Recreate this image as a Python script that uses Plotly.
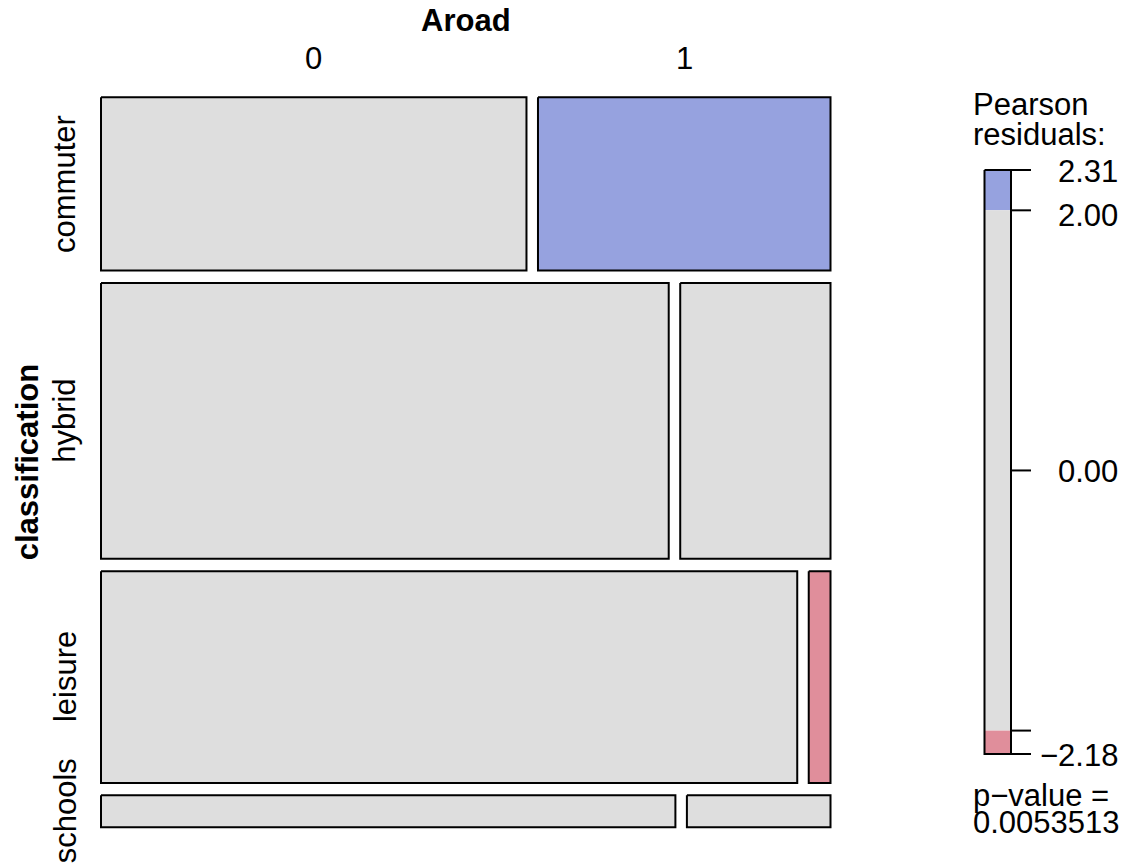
import numpy as np
import plotly.graph_objects as go

# ---- data ----
classification = ["commuter", "hybrid", "leisure", "schools"]
aroad_levels = ["0", "1"]
count_aroad0 = [16, 34, 32, 4]
count_aroad1 = [11, 9, 1, 1]
resid_max = 2.31
resid_min = -2.18
shade_cuts = [2.0, -2.0]
legend_labels = [2.31, 2.00, 0.00, -2.18]
p_value = "0.0053513"

# ---- colours / layout constants ----
W, H = 1128, 868
GREY = "#DEDEDE"
BLUE = "#96A2DF"
PINK = "#E08E9B"
FONT = "Liberation Sans, Arial, sans-serif"
FS = 31

left, right, top, bottom = 101.0, 830.5, 97.3, 827.3
gx, gy = 11.5, 12.3

counts = np.array([count_aroad0, count_aroad1], dtype=float).T  # rows x cols
N = counts.sum()
rowtot = counts.sum(axis=1)
coltot = counts.sum(axis=0)
expected = np.outer(rowtot, coltot) / N
resid = (counts - expected) / np.sqrt(expected)

fig = go.Figure()

def rect(x0, x1, y0, y1, fill, width=2):
    fig.add_trace(go.Scatter(
        x=[x0, x1, x1, x0, x0], y=[y0, y0, y1, y1, y0],
        mode="lines", fill="toself", fillcolor=fill,
        line=dict(color="black", width=width),
        hoverinfo="skip", showlegend=False))

def shade(r):
    if r > shade_cuts[0]:
        return BLUE
    if r < shade_cuts[1]:
        return PINK
    return GREY

nrow, ncol = counts.shape
content_h = (bottom - top) - gy * (nrow - 1)
content_w = (right - left) - gx * (ncol - 1)

row_centers = []
col_centers_first = []
y = top
for i in range(nrow):
    h = content_h * rowtot[i] / N
    x = left
    for j in range(ncol):
        w = content_w * counts[i, j] / rowtot[i]
        rect(x, x + w, y, y + h, shade(resid[i, j]))
        if i == 0:
            col_centers_first.append(x + w / 2)
        x += w + gx
    row_centers.append(y + h / 2)
    y += h + gy

annotations = []
def txt(x, y, s, size=FS, bold=False, angle=0, xanchor="center", yanchor="middle"):
    annotations.append(dict(
        x=x, y=y, xref="x", yref="y", text=("<b>%s</b>" % s) if bold else s,
        showarrow=False, textangle=angle, xanchor=xanchor, yanchor=yanchor,
        font=dict(family=FONT, size=size, color="black")))

# top labels
txt((left + right) / 2, 20, "Aroad", bold=True)
for j, lab in enumerate(aroad_levels):
    txt(col_centers_first[j], 58, lab)
# left labels
txt(27, (top + bottom) / 2, "classification", bold=True, angle=-90)
for i, lab in enumerate(classification):
    txt(65, row_centers[i], lab, angle=-90)

# ---- legend ----
lx0, lx1, ltop, lbot = 984.5, 1011.0, 170.0, 754.0
def ly(v):
    return ltop + (resid_max - v) / (resid_max - resid_min) * (lbot - ltop)

segs = [(resid_max, shade_cuts[0], BLUE), (shade_cuts[0], shade_cuts[1], GREY),
        (shade_cuts[1], resid_min, PINK)]
for a, b, c in segs:
    fig.add_trace(go.Scatter(
        x=[lx0, lx1, lx1, lx0, lx0], y=[ly(a), ly(a), ly(b), ly(b), ly(a)],
        mode="lines", fill="toself", fillcolor=c, line=dict(width=0, color=c),
        hoverinfo="skip", showlegend=False))
fig.add_trace(go.Scatter(
    x=[lx0, lx1, lx1, lx0, lx0], y=[ltop, ltop, lbot, lbot, ltop],
    mode="lines", line=dict(color="black", width=2),
    hoverinfo="skip", showlegend=False))
tick_vals = [resid_max, shade_cuts[0], 0.0, shade_cuts[1], resid_min]
tx, ty = [], []
for v in tick_vals:
    tx += [lx1, 1031, None]
    ty += [ly(v), ly(v), None]
fig.add_trace(go.Scatter(x=tx, y=ty, mode="lines", line=dict(color="black", width=2),
                         hoverinfo="skip", showlegend=False))
for k, v in enumerate(legend_labels):
    s = "%.2f" % v
    s = s.replace("-", "\u2212")
    nudge = 5 if v == shade_cuts[0] else 1
    txt(1120, ly(v) + nudge, s, xanchor="right")

txt(971, 104, "Pearson", xanchor="left")
txt(971, 134, "residuals:", xanchor="left")
txt(971, 795, "p\u2212value =", xanchor="left")
txt(971, 822, p_value, xanchor="left")

fig.update_layout(
    width=W, height=H, margin=dict(l=0, r=0, t=0, b=0),
    paper_bgcolor="white", plot_bgcolor="white",
    xaxis=dict(range=[0, W], visible=False, fixedrange=True),
    yaxis=dict(range=[H, 0], visible=False, fixedrange=True),
    annotations=annotations, showlegend=False)

fig.write_html("out.html", config={"displayModeBar": False},
               post_script="document.body.style.margin='0px';"
                           "document.body.style.overflow='hidden';")
